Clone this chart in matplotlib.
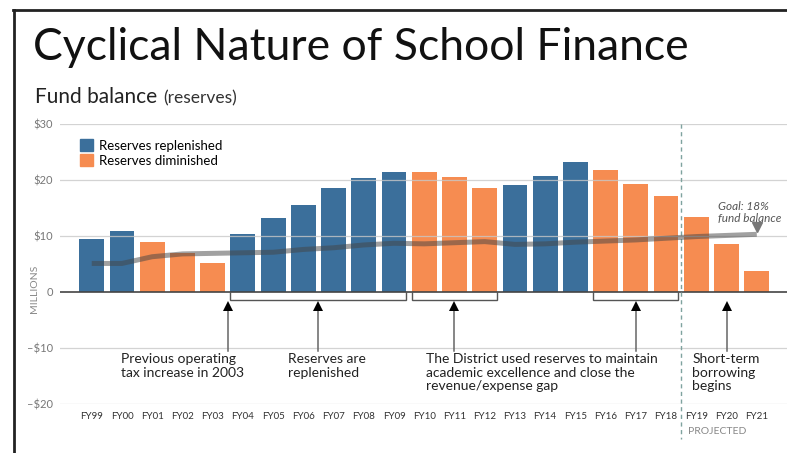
import matplotlib
matplotlib.use("Agg")
import matplotlib.pyplot as plt
from matplotlib.patches import Patch
from matplotlib.lines import Line2D

# ---- data ----
years = ["FY99", "FY00", "FY01", "FY02", "FY03", "FY04", "FY05", "FY06", "FY07",
         "FY08", "FY09", "FY10", "FY11", "FY12", "FY13", "FY14", "FY15", "FY16",
         "FY17", "FY18", "FY19", "FY20", "FY21"]
balance = [9.4, 10.9, 9.0, 7.0, 5.2, 10.4, 13.2, 15.5, 18.6, 20.4, 21.5, 21.4,
           20.5, 18.5, 19.1, 20.8, 23.3, 21.7, 19.3, 17.2, 13.4, 8.5, 3.7]
status = ["rep", "rep", "dim", "dim", "dim", "rep", "rep", "rep", "rep", "rep",
          "rep", "dim", "dim", "dim", "rep", "rep", "rep", "dim", "dim", "dim",
          "dim", "dim", "dim"]
goal_line = [5.1, 5.1, 6.3, 6.8, 6.9, 7.0, 7.1, 7.6, 7.9, 8.4, 8.7, 8.6, 8.8,
             9.0, 8.5, 8.6, 8.9, 9.1, 9.3, 9.6, 9.9, 10.1, 10.3]
yticks = [-20, -10, 0, 10, 20, 30]
ytick_labels = ["\u2013$20", "\u2013$10", "0", "$10", "$20", "$30"]
brackets = [("FY04", "FY09"), ("FY10", "FY12"), ("FY16", "FY18")]
arrow_x = [4.5, 7.5, 12.0, 18.0, 21.0]
notes = [(0.96, "Previous operating\ntax increase in 2003"),
         (6.48, "Reserves are\nreplenished"),
         (11.06, "The District used reserves to maintain\nacademic excellence and close the\nrevenue/expense gap"),
         (19.87, "Short-term\nborrowing\nbegins")]
first_projected = "FY19"

BLUE = "#3b6f9b"
ORANGE = "#f68c51"
FONT = ["Lato", "DejaVu Sans"]
plt.rcParams["font.family"] = FONT

fig = plt.figure(figsize=(7.87, 4.53), dpi=100)
ax = fig.add_axes([60 / 787, 49 / 453, 727 / 787, 280 / 453])

x = list(range(len(years)))
colors = [BLUE if s == "rep" else ORANGE for s in status]
bw = 0.82
ax.bar(x, balance, width=bw, color=colors, zorder=2)

# gridlines
for t in yticks:
    if t != 0:
        ax.axhline(t, color="#c8c8c8", lw=0.9, zorder=3, alpha=0.8)
ax.axhline(0, color="#444444", lw=1.2, zorder=4)

# trend line
ax.plot(x, goal_line, color="#444444", lw=3.6, alpha=0.5, zorder=5,
        solid_capstyle="butt")
ax.plot(x[-1], goal_line[-1] + 1.3, marker="v", color="#777777", ms=7,
        zorder=6, clip_on=False)
ax.text(x[-1] - 1.28, goal_line[-1] + 3.9, "Goal: 18%\nfund balance",
        fontsize=8.5, style="italic", color="#555555", ha="left", va="center",
        linespacing=1.05)

ax.set_xlim(-1.05, 23.0)
ax.set_ylim(-20, 30)
ax.set_yticks(yticks)
ax.set_yticklabels(ytick_labels, fontsize=8, color="#777777")
ax.set_xticks(x)
ax.set_xticklabels(years, fontsize=7, color="#333333")
ax.tick_params(axis="both", length=0)
ax.tick_params(axis="x", pad=6)
ax.tick_params(axis="y", pad=5)
for s in ax.spines.values():
    s.set_visible(False)

ax.text(-25 / 727, 115 / 280, "MILLIONS", transform=ax.transAxes, rotation=90,
        fontsize=7.5, color="#888888", ha="center", va="center")

# brackets
for a, b in brackets:
    l = years.index(a) - bw / 2
    r = years.index(b) + bw / 2
    ax.plot([l, l, r, r], [0, -1.45, -1.45, 0], color="#555555", lw=1.0,
            zorder=4, solid_joinstyle="miter")

# arrows
for xa in arrow_x:
    ax.plot([xa, xa], [-10.6, -2.6], color="#666666", lw=1.1, zorder=4)
    ax.plot(xa, -2.5, marker="^", color="black", ms=6.5, zorder=5,
            markeredgewidth=0)

for xt, txt in notes:
    ax.text(xt, -10.9, txt, fontsize=10, color="#222222", ha="left",
            va="top", linespacing=1.15)

# projected divider
xp = years.index(first_projected) - 0.5
ax.plot([xp, xp], [30, -26.3], color="#7fa39f", lw=1.0, ls=(0, (3, 2.5)),
        clip_on=False, zorder=4)
ax.text(xp + 0.22, -25.0, "PROJECTED", fontsize=7.5, color="#888888",
        ha="left", va="center")

# legend
handles = [Patch(color=BLUE), Patch(color=ORANGE)]
leg = ax.legend(handles, ["Reserves replenished", "Reserves diminished"],
                loc="upper left", bbox_to_anchor=(15 / 727, 0.965), frameon=False,
                fontsize=9.5, handlelength=1.0, handleheight=1.0,
                handletextpad=0.45, labelspacing=0.2, borderaxespad=0)

# titles
fig.text(33 / 787, 1 - 60 / 453, "Cyclical Nature of School Finance",
         fontsize=32, color="#111111", ha="left", va="baseline")
t1 = fig.text(35 / 787, 1 - 103 / 453, "Fund balance", fontsize=15,
              color="#222222", ha="left", va="baseline")
fig.canvas.draw()
bb = t1.get_window_extent()
fig.text((bb.x1 + 6) / 787, 1 - 103 / 453, "(reserves)", fontsize=12.5,
         color="#333333", ha="left", va="baseline")

# frame border
fig.add_artist(Line2D([13 / 787, 1.0], [1 - 9.5 / 453, 1 - 9.5 / 453],
                      color="#222222", lw=2.0))
fig.add_artist(Line2D([14 / 787, 14 / 787], [1 - 9.5 / 453, 0],
                      color="#222222", lw=2.0))

fig.savefig("out.png", dpi=100)
